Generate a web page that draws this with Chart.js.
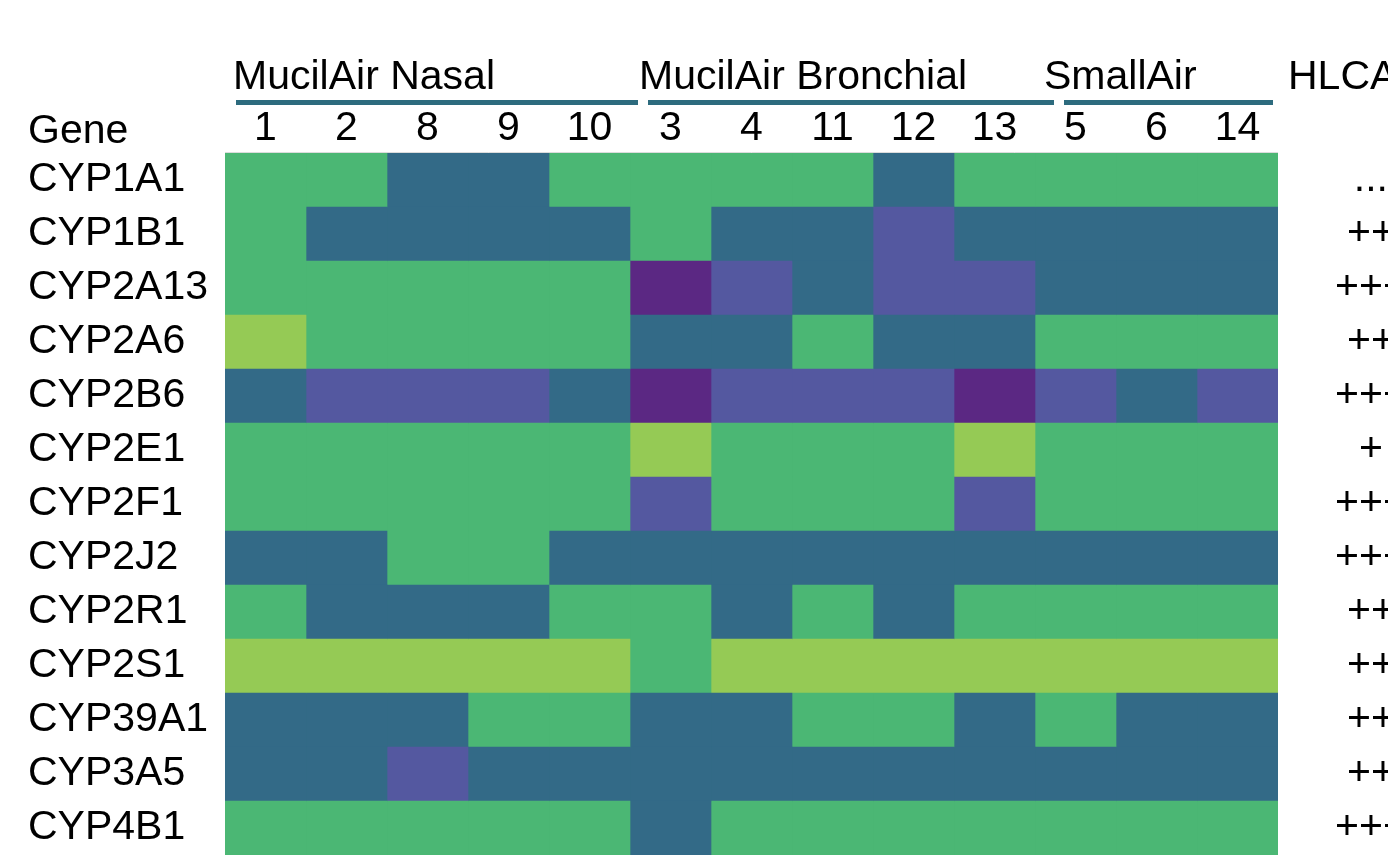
<!DOCTYPE html>
<html>
<head>
<meta charset="utf-8">
<script src="https://cdn.jsdelivr.net/npm/chart.js@4"></script>
<style>
  html, body { margin: 0; padding: 0; background: #fff; }
  #wrap { width: 1388px; height: 865px; }
</style>
</head>
<body>
<div id="wrap"><canvas id="myChart"></canvas></div>
<script>
const genes = ["CYP1A1", "CYP1B1", "CYP2A13", "CYP2A6", "CYP2B6", "CYP2E1", "CYP2F1",
  "CYP2J2", "CYP2R1", "CYP2S1", "CYP39A1", "CYP3A5", "CYP4B1"];
const samples = ["1", "2", "8", "9", "10", "3", "4", "11", "12", "13", "5", "6", "14"];
const groups = ["MucilAir Nasal", "MucilAir Bronchial", "SmallAir"];
const hlca = ["...", "++", "+++", "++", "+++", "+", "+++", "+++", "++", "++", "++", "++", "+++"];

// expression level per gene (rows) and sample (columns), 0 = lowest .. 4 = highest
const levels = [
  [3, 3, 2, 2, 3, 3, 3, 3, 2, 3, 3, 3, 3], // CYP1A1
  [3, 2, 2, 2, 2, 3, 2, 2, 1, 2, 2, 2, 2], // CYP1B1
  [3, 3, 3, 3, 3, 0, 1, 2, 1, 1, 2, 2, 2], // CYP2A13
  [4, 3, 3, 3, 3, 2, 2, 3, 2, 2, 3, 3, 3], // CYP2A6
  [2, 1, 1, 1, 2, 0, 1, 1, 1, 0, 1, 2, 1], // CYP2B6
  [3, 3, 3, 3, 3, 4, 3, 3, 3, 4, 3, 3, 3], // CYP2E1
  [3, 3, 3, 3, 3, 1, 3, 3, 3, 1, 3, 3, 3], // CYP2F1
  [2, 2, 3, 3, 2, 2, 2, 2, 2, 2, 2, 2, 2], // CYP2J2
  [3, 2, 2, 2, 3, 3, 2, 3, 2, 3, 3, 3, 3], // CYP2R1
  [4, 4, 4, 4, 4, 3, 4, 4, 4, 4, 4, 4, 4], // CYP2S1
  [2, 2, 2, 3, 3, 2, 2, 3, 3, 2, 3, 2, 2], // CYP39A1
  [2, 2, 1, 2, 2, 2, 2, 2, 2, 2, 2, 2, 2], // CYP3A5
  [3, 3, 3, 3, 3, 2, 3, 3, 3, 3, 3, 3, 3]  // CYP4B1
];
const levelColors = ["#5b2883", "#5458a0", "#336a87", "#4bb774", "#95ca55"];

const FONT = "'Liberation Sans', Arial, Helvetica, sans-serif";
const FSIZE = 41;

// one stacked dataset per sample column, each cell is one unit wide
const datasets = samples.map(function (s, c) {
  return {
    label: s,
    data: genes.map(function () { return 1; }),
    backgroundColor: genes.map(function (g, r) { return levelColors[levels[r][c]]; }),
    borderWidth: 0,
    barPercentage: 1,
    categoryPercentage: 1
  };
});

// header texts and group bars above the heatmap
const headerPlugin = {
  id: "headers",
  afterDraw(chart) {
    const ctx = chart.ctx;
    const area = chart.chartArea;
    ctx.save();
    ctx.fillStyle = "#000";
    ctx.font = FSIZE + "px " + FONT;
    ctx.textAlign = "left";
    ctx.textBaseline = "alphabetic";
    ctx.fillText("Gene", 28, 143);
    const labelX = [233, 639, 1044];
    groups.forEach(function (g, i) {
      ctx.fillText(g, labelX[i], 89);
    });
    ctx.fillText("HLCA", 1288, 89);

    ctx.fillStyle = "#2d6b7e";
    const bars = [[236, 638], [648, 1054], [1064, 1273]];
    bars.forEach(function (b) {
      ctx.fillRect(b[0], 100, b[1] - b[0], 5);
    });

    ctx.strokeStyle = "#dcdcdc";
    ctx.lineWidth = 1;
    ctx.beginPath();
    ctx.moveTo(area.left, area.top - 0.5);
    ctx.lineTo(area.right, area.top - 0.5);
    ctx.stroke();
    ctx.restore();
  }
};

function noLabelPadding(scale) {
  scale.paddingTop = 0;
  scale.paddingBottom = 0;
}

const ctx = document.querySelector("#myChart");
new Chart(ctx, {
  type: "bar",
  data: {
    labels: genes,
    datasets: datasets
  },
  options: {
    indexAxis: "y",
    responsive: true,
    maintainAspectRatio: false,
    animation: false,
    layout: { padding: { left: 28, right: 0, top: 0, bottom: 10 } },
    plugins: {
      legend: { display: false },
      tooltip: { enabled: false }
    },
    scales: {
      x: { type: "linear", stacked: true, min: 0, max: 13, display: false },
      x2: {
        type: "category",
        labels: samples,
        position: "top",
        offset: true,
        grid: { display: false, drawTicks: false },
        border: { display: false },
        ticks: { color: "#000", font: { size: FSIZE, family: FONT }, padding: 0, maxRotation: 0, autoSkip: false },
        afterFit(scale) { scale.height = 153; scale.paddingLeft = 0; scale.paddingRight = 0; }
      },
      y: {
        type: "category",
        stacked: true,
        position: "left",
        grid: { display: false, drawTicks: false },
        border: { display: false },
        ticks: { color: "#000", font: { size: FSIZE, family: FONT }, crossAlign: "far", autoSkip: false },
        afterFit(scale) { scale.width = 197; noLabelPadding(scale); }
      },
      y2: {
        type: "category",
        labels: hlca,
        position: "right",
        offset: true,
        grid: { display: false, drawTicks: false },
        border: { display: false },
        ticks: { color: "#000", font: { size: FSIZE, family: FONT }, crossAlign: "center", padding: 57, autoSkip: false },
        afterFit(scale) { scale.width = 110; noLabelPadding(scale); }
      }
    }
  },
  plugins: [headerPlugin]
});
</script>
</body>
</html>
